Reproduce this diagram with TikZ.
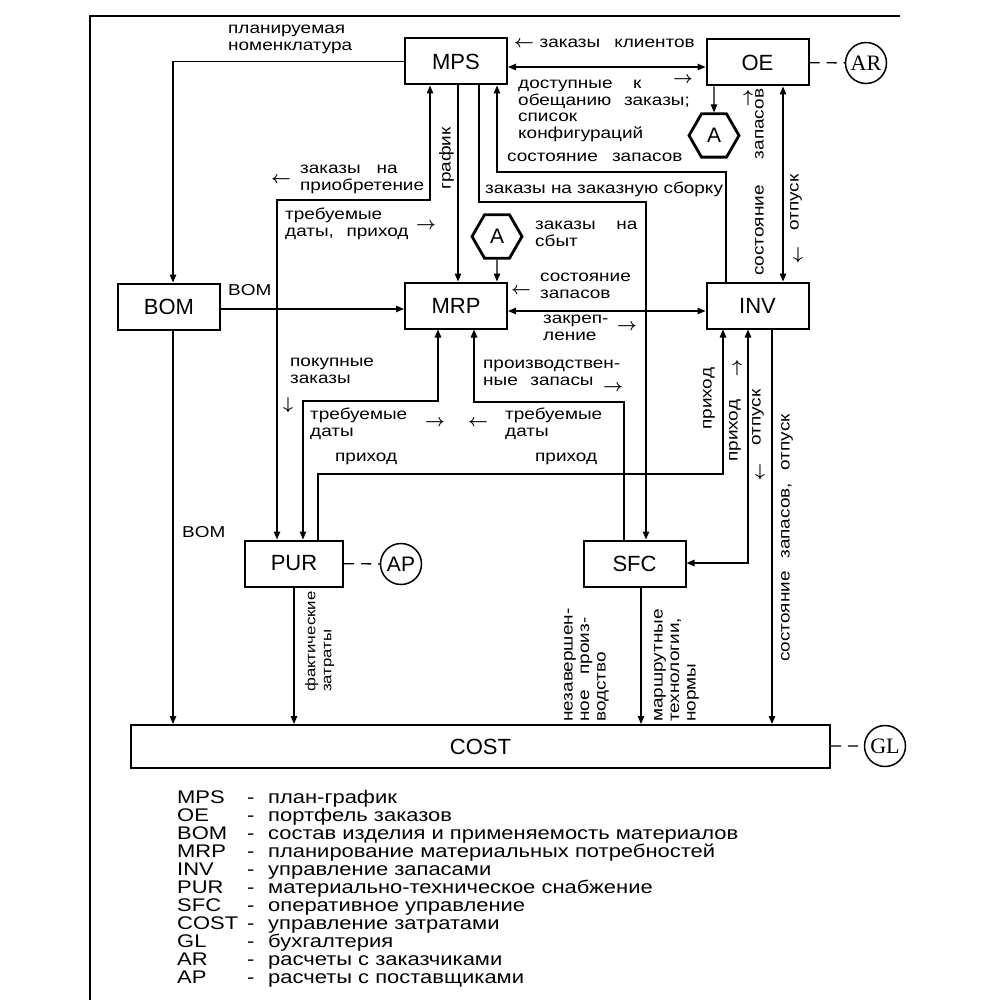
\documentclass[tikz,border=0pt]{standalone}
\usepackage{fontspec}
\setmainfont{Liberation Sans}[FakeStretch=1.2]
\newfontfamily\seriffont{Liberation Serif}
\newfontfamily\boxfont{Liberation Sans}
\usetikzlibrary{arrows.meta,positioning,calc,shapes.geometric}

\newcommand\lblfont{\fontsize{15.8}{16.5}\selectfont\spaceskip=0.5em\relax}
\newcommand\legfont{\fontsize{18.3}{18}\selectfont}
\newcommand\tipglyph[1]{{\fontsize{17}{16}\selectfont\boldmath$#1$}}

\begin{document}
\begin{tikzpicture}[x=1pt, y=-1pt,
  box/.style={draw, line width=2pt, minimum width=102pt, minimum height=46pt,
              inner sep=0pt, font=\boxfont\fontsize{22}{22}\selectfont},
  hex/.style={draw, regular polygon, regular polygon sides=6, line width=2.8pt,
              minimum size=50pt, inner sep=0pt, font=\boxfont\fontsize{21}{21}\selectfont},
  ext/.style={draw, circle, line width=1.5pt, minimum size=41pt, inner sep=0pt,
              font=\boxfont\fontsize{21}{21}\selectfont},
  arr/.style={-{Triangle[length=8pt,width=6.5pt]}, line width=1.3pt},
  arrs/.style={{Triangle[length=8pt,width=6.5pt]}-{Triangle[length=8pt,width=6.5pt]}, line width=1.3pt},
  link/.style={line width=1.3pt, dash pattern=on 10pt off 7pt},
  lbl/.style={anchor=north west, inner sep=0pt, align=left, font=\lblfont},
  rlbl/.style={lbl, rotate=90},
  tip/.style={inner sep=0pt, font=\fontsize{17}{16}\selectfont\boldmath},
  leg/.style={anchor=base west, inner sep=0pt, font=\legfont}
]
\useasboundingbox (0,0) rectangle (986,1000);
\draw[line width=2.5pt] (90,1000) -- (90,16) -- (900,16);

%% ---- modules ----
\node[box] (MPS) at (456,61.5) {MPS};
\node[box] (OE)  at (757.5,62.5) {OE};
\node[box] (BOM) at (169,306.5) {BOM};
\node[box] (MRP) at (456,305.5) {MRP};
\node[box] (INV) at (757.5,305.5) {INV};
\node[box, minimum width=98pt] (PUR) at (294,563.5) {PUR};
\node[box] (SFC) at (634.5,563.5) {SFC};
\node[box, minimum width=699pt, minimum height=43pt] (COST) at (480.5,746.5) {COST};

%% ---- outside systems ----
\node[ext, font=\seriffont\fontsize{22}{22}\selectfont] (AR) at (866,63) {AR};
\node[ext] (AP) at (401,564) {AP};
\node[ext, font=\seriffont\fontsize{22}{22}\selectfont] (GL) at (885,746) {GL};

%% ---- connectors A ----
\node[hex] (A1) at (714,135.5) {A};
\node[hex] (A2) at (497,236.5) {A};

%% bends
\coordinate (jPOa)  at (430,200);
\coordinate (jPOb)  at (277,200);
\coordinate (jATOa) at (479,202);
\coordinate (jATOb) at (646,202);
\coordinate (jSTa)  at (726,172);
\coordinate (jSTb)  at (497,172);
\coordinate (jPDa)  at (438,401);
\coordinate (jPDb)  at (303,401);
\coordinate (jSDa)  at (624,402);
\coordinate (jSDb)  at (474,402);
\coordinate (jRCa)  at (318,474);
\coordinate (jRCb)  at (723,474);
\coordinate (jISa)  at (748,563);
\coordinate (xBOM)  at (173,0);
\coordinate (xSch)  at (458,0);
\coordinate (xOI)   at (783,0);
\coordinate (xIC)   at (772,0);
\coordinate (xSC)   at (641,0);
\coordinate (yMO)   at (0,67);
\coordinate (yBM)   at (0,309);
\coordinate (yMI)   at (0,311);

%% arrows
\draw[arr]  (MPS.west) -| (BOM.north -| xBOM);
\draw[arrs] (MPS.east |- yMO) -- (OE.west |- yMO);
\draw[arr]  (MPS.south -| xSch) -- (MRP.north -| xSch);
\draw[arrs] (MPS.south -| jPOa) -- (jPOa) -- (jPOb) -- (PUR.north -| jPOb);
\draw[arr]  (MPS.south -| jATOa) -- (jATOa) -- (jATOb) -- (SFC.north -| jATOb);
\draw[arr]  (INV.north -| jSTa) -- (jSTa) -- (jSTb) -- (MPS.south -| jSTb);
\draw[arr]  (OE.south -| A1) -- (A1.north);
\draw[arrs] (OE.south -| xOI) -- (INV.north -| xOI);
\draw[arr]  (BOM.east |- yBM) -- (MRP.west |- yBM);
\draw[arr]  (BOM.south -| xBOM) -- (COST.north -| xBOM);
\draw[arr]  (A2.south) -- (MRP.north -| A2);
\draw[arrs] (MRP.east |- yMI) -- (INV.west |- yMI);
\draw[arrs] (MRP.south -| jPDa) -- (jPDa) -- (jPDb) -- (PUR.north -| jPDb);
\draw[arr]  (SFC.north -| jSDa) -- (jSDa) -- (jSDb) -- (MRP.south -| jSDb);
\draw[arr]  (PUR.north -| jRCa) -- (jRCa) -- (jRCb) -- (INV.south -| jRCb);
\draw[arrs] (INV.south -| jISa) -- (jISa) -- (SFC.east |- jISa);
\draw[arr]  (INV.south -| xIC) -- (COST.north -| xIC);
\draw[arr]  (PUR.south) -- (COST.north -| PUR.south);
\draw[arr]  (SFC.south -| xSC) -- (COST.north -| xSC);
\foreach \a/\b in {OE/AR, PUR/AP, COST/GL}
  \draw[link] (\a) -- (\b);

%% labels
\node[lbl] (lNom)   at (228,25)  {планируемая\\номенклатура};
\node[lbl] (lCust)  at (514,39)  {\tipglyph{\leftarrow}\hspace{0.35em}заказы\hspace{0.9em}клиентов};
\node[lbl] (lProm)  at (518,80)  {доступные\hspace{1.3em}к\\обещанию\hspace{0.8em}заказы;\\список\\конфигураций};
\node[tip] (tProm)  at (683,80)  {$\rightarrow$};
\node[lbl] (lStMPS) at (507,153) {состояние\hspace{0.9em}запасов};
\node[lbl] (lATO)   at (485,182) {\spaceskip=0.33em\relax заказы на заказную сборку};
\node[tip] (tPO)    at (281,180) {$\leftarrow$};
\node[lbl] (lPO)    at (300,165) {заказы\hspace{1em}на\\приобретение};
\node[lbl] (lReqPO) at (285,208) {требуемые\\даты,\hspace{0.8em}приход};
\node[tip] (tReqPO) at (426,226) {$\rightarrow$};
\node[lbl] (lSales) at (535,221) {заказы\hspace{1.3em}на\\сбыт};
\node[lbl] (lBOMa)  at (228,284) {BOM};
\node[tip] (tStMRP) at (521,291) {$\leftarrow$};
\node[lbl] (lStMRP) at (540,273) {состояние\\запасов};
\node[lbl] (lAlloc) at (543,315) {закреп-\\ление};
\node[tip] (tAlloc) at (627,327) {$\rightarrow$};
\node[lbl] (lPurch) at (290,358) {покупные\\заказы};
\node[tip] (tPurch) at (288,405) {$\downarrow$};
\node[lbl] (lWIP)   at (483,360) {производствен-\\ные\hspace{0.8em}запасы};
\node[tip] (tWIP)   at (613,388) {$\rightarrow$};
\node[lbl] (lReqL)  at (310,408) {требуемые\\даты};
\node[tip] (tReqL)  at (435,423) {$\rightarrow$};
\node[tip] (tReqR)  at (478,423) {$\leftarrow$};
\node[lbl] (lReqR)  at (505,408) {требуемые\\даты};
\node[lbl] (lRcL)   at (335,453) {приход};
\node[lbl] (lRcR)   at (535,453) {приход};
\node[lbl] (lBOMb)  at (182,526) {BOM};

%% rotated labels
\node[rlbl] (lSched) at (439,190) {график};
\node[rlbl] (lStOE)  at (755,276) {состояние\hspace{26pt}запасов};
\node[tip]  (tStOE)  at (748,98)  {$\uparrow$};
\node[rlbl] (lIss)   at (790,231) {отпуск};
\node[tip]  (tIss)   at (798,255) {$\downarrow$};
\node[rlbl] (lRcA)   at (703,430) {приход};
\node[tip]  (tRcB)   at (737,368) {$\uparrow$};
\node[rlbl] (lRcB)   at (729,462) {приход};
\node[rlbl] (lIssB)  at (752,446) {отпуск};
\node[tip]  (tIssB)  at (760,472) {$\downarrow$};
\node[rlbl] (lStCst) at (781,662) {состояние\hspace{0.8em}запасов,\hspace{0.8em}отпуск};
\node[rlbl, font=\fontsize{14}{16}\selectfont] (lAct) at (305,692) {фактические\\затраты};
\node[rlbl] (lWIPc)  at (564,722) {незавершен-\\ное\hspace{1em}произ-\\водство};
\node[rlbl] (lRout)  at (654,722) {маршрутные\\технологии,\\нормы};

%% legend
\foreach \ab/\tx [count=\i] in {MPS/план-график, OE/портфель заказов,
    BOM/состав изделия и применяемость материалов,
    MRP/планирование материальных потребностей, INV/управление запасами,
    PUR/материально-техническое снабжение, SFC/оперативное управление,
    COST/управление затратами, GL/бухгалтерия, AR/расчеты с заказчиками,
    AP/расчеты с поставщиками} {
  \node[leg] (legA\i) at (177,785+18*\i) {\ab};
  \node[leg] (legD\i) at (247,785+18*\i) {-};
  \node[leg] (legT\i) at (268,785+18*\i) {\tx};
}

\end{tikzpicture}
\end{document}
